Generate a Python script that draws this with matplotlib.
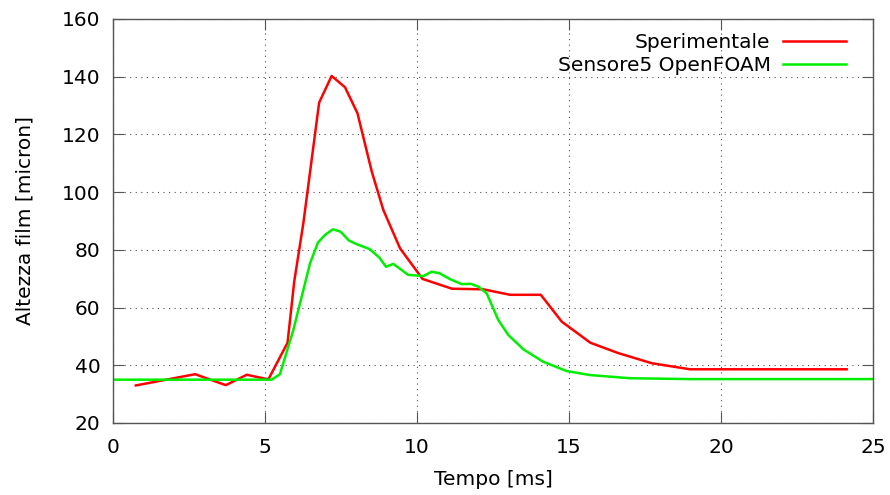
import matplotlib
matplotlib.use('Agg')
from matplotlib import pyplot as plt

# dati sperimentali
t_sper = [0.75, 2.7, 3.71, 4.4, 5.11, 5.74, 5.96, 6.26, 6.78, 7.19, 7.63, 8.04,
          8.51, 8.89, 9.44, 10.18, 11.15, 12.18, 13.06, 14.07, 14.76, 15.7,
          16.62, 17.72, 18.98, 24.13]
h_sper = [33.0, 36.9, 33.1, 36.7, 35.1, 47.8, 69.0, 89.2, 131.0, 140.2, 136.3,
          127.3, 107.1, 93.8, 80.5, 69.9, 66.5, 66.3, 64.4, 64.4, 55.1, 47.8,
          44.2, 40.7, 38.6, 38.6]

# sensore 5 OpenFOAM
t_foam = [0.0, 5.22, 5.49, 5.93, 6.48, 6.74, 6.97, 7.23, 7.48, 7.76, 8.02, 8.43,
          8.75, 8.98, 9.22, 9.71, 10.21, 10.48, 10.73, 11.09, 11.47, 11.77,
          12.02, 12.29, 12.67, 13.0, 13.5, 14.15, 14.92, 15.69, 17.0, 19.0,
          25.0]
h_foam = [35.0, 35.0, 36.9, 52.2, 75.3, 82.5, 85.1, 87.1, 86.3, 83.2, 81.9,
          80.3, 77.4, 74.1, 75.1, 71.3, 70.9, 72.4, 71.9, 69.8, 68.1, 68.2,
          67.2, 64.9, 55.7, 50.5, 45.5, 41.2, 38.0, 36.6, 35.5, 35.2, 35.2]

x_ticks = [0, 5, 10, 15, 20, 25]
y_ticks = [20, 40, 60, 80, 100, 120, 140, 160]

plt.rcParams['font.family'] = 'DejaVu Sans'

fig = plt.figure(figsize=(8.9, 4.95), dpi=100)
ax = fig.add_axes([0.127, 0.1455, 0.854, 0.8165])

ax.plot(t_sper, h_sper, color='#ff0000', lw=1.8, label='Sperimentale')
ax.plot(t_foam, h_foam, color='#00ee00', lw=1.8, label='Sensore5 OpenFOAM')

ax.set_xlim(0, 25)
ax.set_ylim(20, 160)
ax.set_xticks(x_ticks)
ax.set_yticks(y_ticks)
ax.grid(True, color='#505050', linestyle=(0, (1, 4)), lw=0.8)

for s in ax.spines.values():
    s.set_color('#555555')
    s.set_linewidth(1.0)
ax.tick_params(direction='in', length=8, width=0.8, color='#555555',
               top=True, right=True, labelsize=14.5)
ax.tick_params(axis='x', pad=11)
ax.tick_params(axis='y', pad=9)

ax.set_xlabel('Tempo [ms]', fontsize=14.5, labelpad=9)
ax.set_ylabel('Altezza film [micron]', fontsize=14.5, labelpad=20)

leg = ax.legend(loc='upper right', bbox_to_anchor=(0.983, 1.0), frameon=False,
                fontsize=14.5, markerfirst=False, handlelength=3.15,
                handletextpad=0.6, labelspacing=0.2, borderaxespad=0.3)
for t in leg.get_texts():
    t.set_ha('right')

fig.savefig('out.png', dpi=100)
